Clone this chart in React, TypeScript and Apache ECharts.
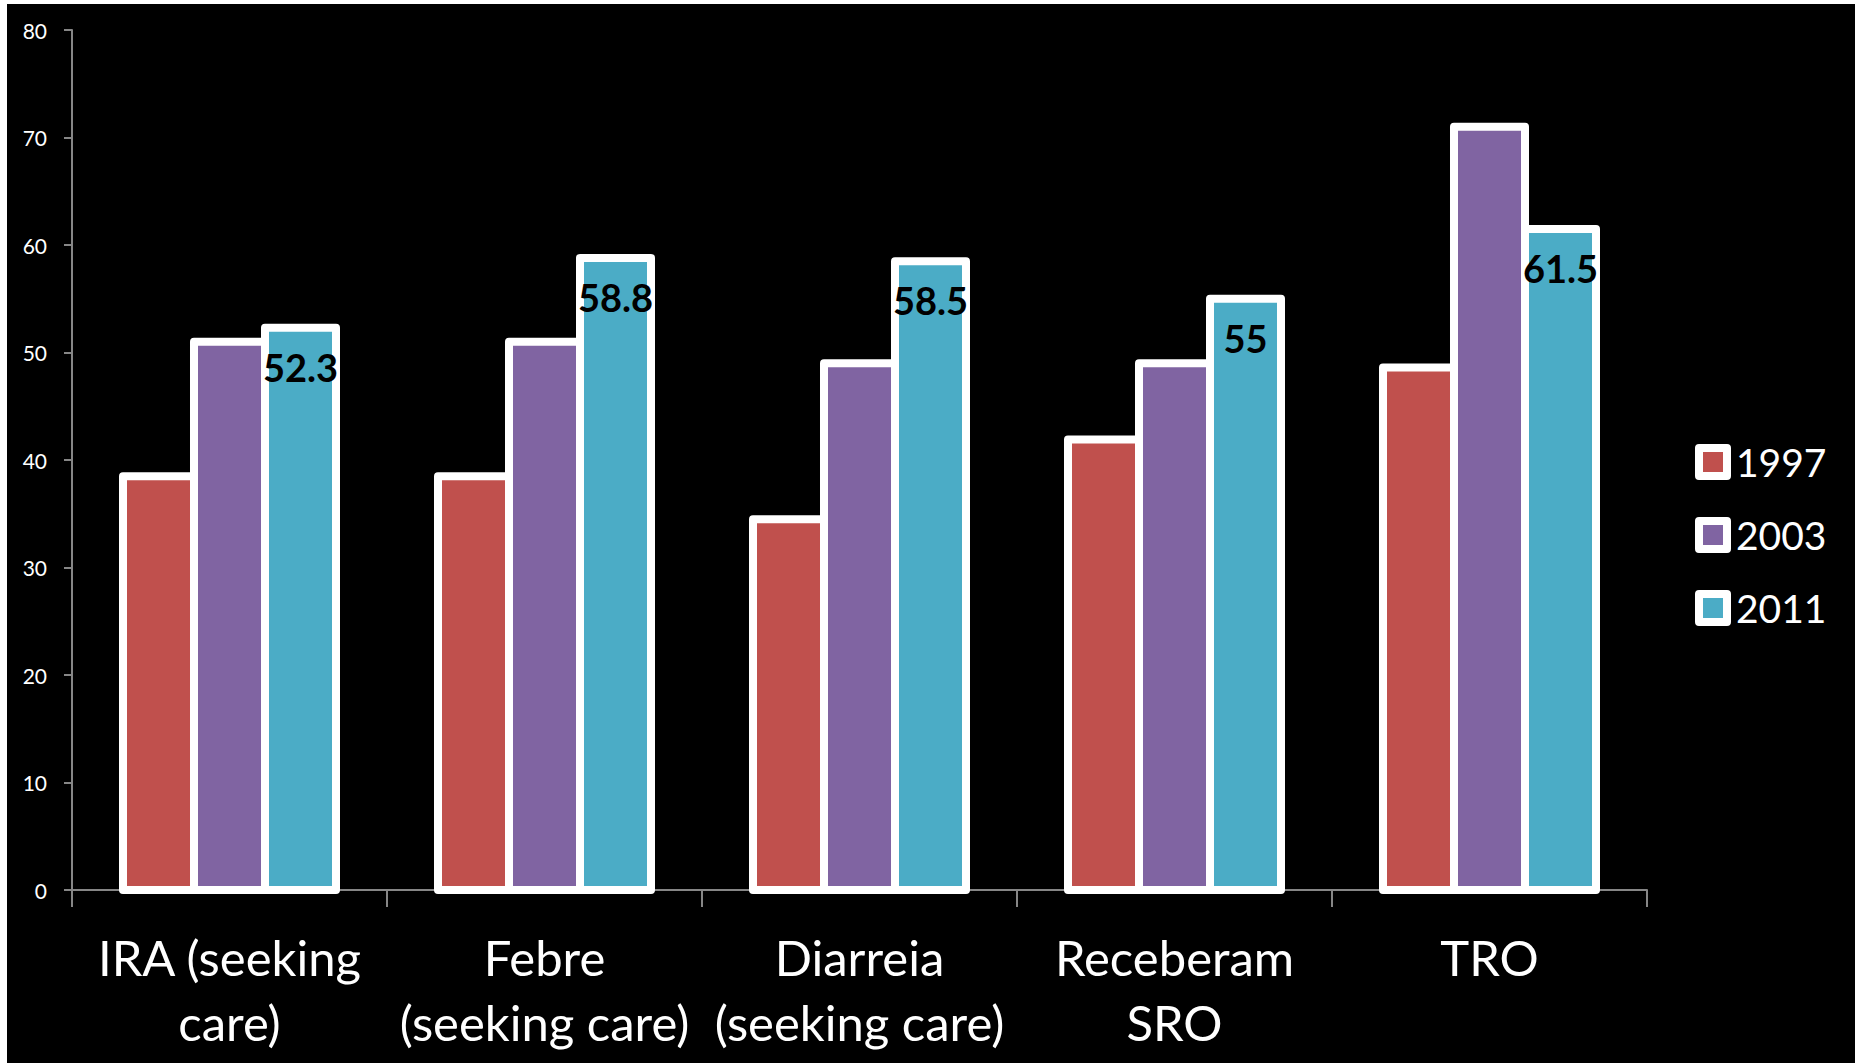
import React, { useEffect, useRef } from "react";
import * as echarts from "echarts";

const categories = [
  "IRA (seeking\ncare)",
  "Febre\n(seeking care)",
  "Diarreia\n(seeking care)",
  "Receberam\nSRO",
  "TRO",
];
const seriesNames = ["1997", "2003", "2011"];
const values1997 = [38.5, 38.5, 34.5, 41.9, 48.6];
const values2003 = [51, 51, 49, 49, 71];
const values2011 = [52.3, 58.8, 58.5, 55, 61.5];
const colors = ["#C0504D", "#8064A2", "#4BACC6"];
const yTicks = { min: 0, max: 80, interval: 10 };

export default function App() {
  const ref = useRef<HTMLDivElement>(null);
  useEffect(() => {
    if (!ref.current) return;
    const chart = echarts.init(ref.current, undefined, { renderer: "svg" });
    const font = "Lato, 'Open Sans', sans-serif";
    const barFrac = 0.2254;
    const mkSeries = (idx: number, data: number[], labeled: boolean) => ({
      name: seriesNames[idx],
      type: "custom",
      data: data.map((v, i) => [i, v]),
      encode: { x: 0, y: 1 },
      itemStyle: { color: colors[idx], borderColor: "#FFFFFF", borderWidth: 8 },
      renderItem: (params: any, api: any) => {
        const cat = api.value(0);
        const val = api.value(1);
        const base = api.coord([cat, 0]);
        const top = api.coord([cat, val]);
        const band = api.size([1, 0])[0];
        const w = band * barFrac;
        const x = base[0] + (idx - 1.5) * w;
        const children: any[] = [
          {
            type: "rect",
            shape: { x, y: top[1], width: w, height: base[1] - top[1] },
            style: { fill: colors[idx], stroke: "#FFFFFF", lineWidth: 8, lineJoin: "round" },
          },
        ];
        if (labeled) {
          children.push({
            type: "text",
            x: x + w / 2,
            y: top[1] + 20,
            style: {
              text: String(val),
              fill: "#000000",
              font: `bold 38px ${font}`,
              align: "center",
              verticalAlign: "top",
              lineHeight: 38,
            },
            z2: 10,
          });
        }
        return { type: "group", children };
      },
    });
    chart.setOption({
      animation: false,
      backgroundColor: "#FFFFFF",
      graphic: [
        {
          type: "rect",
          z: -10,
          shape: { x: 7, y: 4, width: 1848, height: 1059 },
          style: { fill: "#000000" },
        },
      ],
      grid: { left: 72, top: 30, right: 208, bottom: 174, containLabel: false },
      legend: {
        orient: "vertical",
        left: 1690,
        top: 437,
        itemWidth: 28,
        itemHeight: 28,
        itemGap: 33,
        icon: "rect",
        data: seriesNames,
        itemStyle: { borderColor: "#FFFFFF", borderWidth: 8, borderJoin: "round" },
        textStyle: {
          color: "#FFFFFF",
          fontFamily: font,
          fontSize: 39,
          lineHeight: 40,
          padding: [0, 0, 0, 4],
        },
      },
      xAxis: {
        type: "category",
        data: categories,
        axisLine: { show: true, lineStyle: { color: "#868686", width: 2 } },
        axisTick: { show: true, length: 17, lineStyle: { color: "#868686", width: 2 } },
        axisLabel: {
          color: "#FFFFFF",
          fontFamily: font,
          fontSize: 49,
          lineHeight: 65,
          margin: 34,
          interval: 0,
        },
        splitLine: { show: false },
      },
      yAxis: {
        type: "value",
        min: yTicks.min,
        max: yTicks.max,
        interval: yTicks.interval,
        axisLine: { show: true, lineStyle: { color: "#868686", width: 2 } },
        axisTick: { show: true, length: 8, lineStyle: { color: "#868686", width: 2 } },
        axisLabel: { color: "#FFFFFF", fontFamily: font, fontSize: 21, margin: 25 },
        splitLine: { show: false },
      },
      series: [
        mkSeries(0, values1997, false),
        mkSeries(1, values2003, false),
        mkSeries(2, values2011, true),
      ],
    });
    return () => chart.dispose();
  }, []);
  return (
    <div
      ref={ref}
      style={{ position: "absolute", left: 0, top: 0, width: 1855, height: 1064 }}
    />
  );
}
